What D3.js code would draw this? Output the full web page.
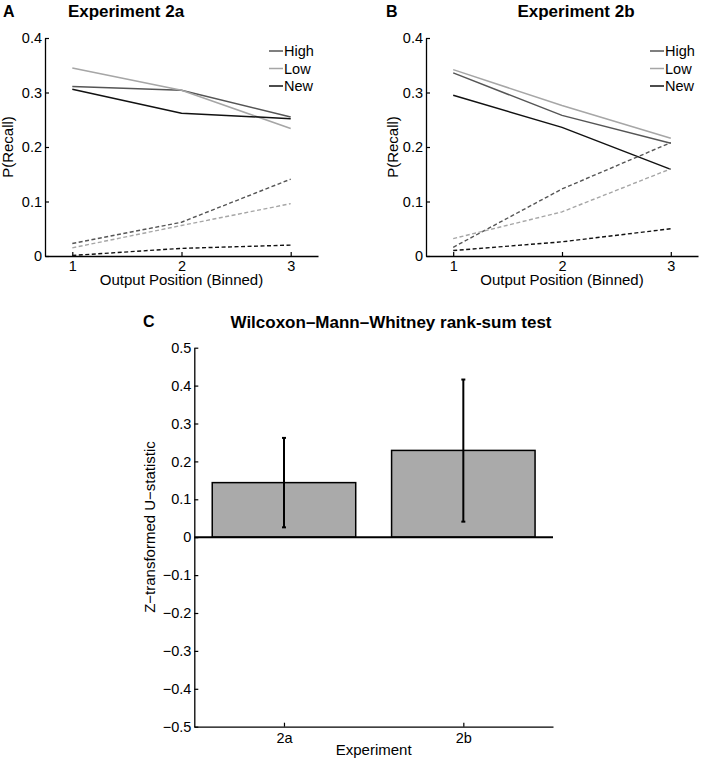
<!DOCTYPE html>
<html><head><meta charset="utf-8">
<script src="https://cdn.jsdelivr.net/npm/d3@7"></script>
<style>
body{margin:0;background:#fff;}
svg{display:block;font-family:"Liberation Sans",Arial,Helvetica,sans-serif;}
</style></head>
<body>
<svg id="chart" width="708" height="763"></svg>
<script>
// ---------- DATA ----------
const positions = [1, 2, 3];
const seriesNames = ["High", "Low", "New"];
const seriesColors = ["#555555", "#a6a6a6", "#111111"];

// Experiment 2a (solid = recall of studied items, dashed = intrusions)
const a_high_solid  = [0.311, 0.304, 0.255];
const a_low_solid   = [0.345, 0.304, 0.234];
const a_new_solid   = [0.306, 0.262, 0.252];
const a_high_dashed = [0.023, 0.062, 0.141];
const a_low_dashed  = [0.015, 0.056, 0.096];
const a_new_dashed  = [0.001, 0.014, 0.020];

// Experiment 2b
const b_high_solid  = [0.336, 0.258, 0.207];
const b_low_solid   = [0.342, 0.276, 0.216];
const b_new_solid   = [0.295, 0.236, 0.159];
const b_high_dashed = [0.016, 0.123, 0.208];
const b_low_dashed  = [0.032, 0.081, 0.160];
const b_new_dashed  = [0.010, 0.026, 0.050];

const recallTicks = [0, 0.1, 0.2, 0.3, 0.4];

// Panel C
const experiments = ["2a", "2b"];
const zValues   = [0.144, 0.229];
const errLower  = [0.026, 0.041];
const errUpper  = [0.262, 0.416];
const zTicks = [-0.5, -0.4, -0.3, -0.2, -0.1, 0, 0.1, 0.2, 0.3, 0.4, 0.5];

// ---------- DRAW ----------
const svg = d3.select("#chart");
const fmtP = d => d === 0 ? "0" : d3.format(".1f")(d);
const fmtZ = d => d === 0 ? "0" : (d < 0 ? "\u2212" : "") + d3.format(".1f")(Math.abs(d));

function styleAxis(g) {
  g.select(".domain").attr("stroke", "#000").attr("stroke-width", 1.3);
  g.selectAll(".tick line").attr("stroke", "#000").attr("stroke-width", 1.2);
  g.selectAll(".tick text").attr("fill", "#000").style("font-size", "14.5px");
  g.attr("font-family", null);
}

function linePanel(opt) {
  const x = d3.scaleLinear().domain([0.75, 3.25]).range([opt.x0, opt.x1]);
  const y = d3.scaleLinear().domain([0, 0.4]).range([256, 38]);
  const g = svg.append("g");

  const xa = g.append("g").attr("transform", `translate(0,${y(0)})`)
    .call(d3.axisBottom(x).tickValues(positions).tickFormat(d3.format("d"))
      .tickSizeInner(-4).tickSizeOuter(0).tickPadding(5));
  styleAxis(xa);
  const ya = g.append("g").attr("transform", `translate(${opt.x0},0)`)
    .call(d3.axisLeft(y).tickValues(recallTicks).tickFormat(fmtP)
      .tickSizeInner(-4).tickSizeOuter(0).tickPadding(3));
  styleAxis(ya);

  const line = d3.line().x((d, i) => x(positions[i])).y(d => y(d));
  opt.solid.forEach((s, k) => {
    g.append("path").datum(s).attr("d", line).attr("fill", "none")
      .attr("stroke", seriesColors[k]).attr("stroke-width", 1.5);
  });
  opt.dashed.forEach((s, k) => {
    g.append("path").datum(s).attr("d", line).attr("fill", "none")
      .attr("stroke", seriesColors[k]).attr("stroke-width", 1.4)
      .attr("stroke-dasharray", "4,2.5");
  });

  // legend
  seriesNames.forEach((n, k) => {
    const ly = 51 + k * 17.5;
    g.append("line").attr("x1", opt.legX).attr("x2", opt.legX + 14)
      .attr("y1", ly).attr("y2", ly).attr("stroke", seriesColors[k]).attr("stroke-width", 1.5);
    g.append("text").attr("x", opt.legX + 15).attr("y", ly).attr("dy", "0.35em")
      .style("font-size", "14.5px").text(n);
  });

  // labels
  g.append("text").attr("x", (x(1) + x(3)) / 2).attr("y", 285)
    .attr("text-anchor", "middle").style("font-size", "15px").text("Output Position (Binned)");
  g.append("text").attr("transform", `translate(${opt.ylabX},${(y(0) + y(0.4)) / 2}) rotate(-90)`)
    .attr("text-anchor", "middle").style("font-size", "15px").text("P(Recall)");
  g.append("text").attr("x", opt.titleX).attr("y", 17).attr("text-anchor", "middle")
    .style("font-size", "17px").style("font-weight", "bold").text(opt.title);
  g.append("text").attr("x", opt.letterX).attr("y", 17)
    .style("font-size", "16px").style("font-weight", "bold").text(opt.letter);
}

linePanel({x0: 45, x1: 318, legX: 269, ylabX: 13, titleX: 126, letterX: 3, letter: "A",
  title: "Experiment 2a",
  solid: [a_high_solid, a_low_solid, a_new_solid],
  dashed: [a_high_dashed, a_low_dashed, a_new_dashed]});
linePanel({x0: 426, x1: 698, legX: 650, ylabX: 398, titleX: 576, letterX: 386, letter: "B",
  title: "Experiment 2b",
  solid: [b_high_solid, b_low_solid, b_new_solid],
  dashed: [b_high_dashed, b_low_dashed, b_new_dashed]});

// ---------- Panel C ----------
(function () {
  const x = d3.scaleLinear().domain([0.5, 2.5]).range([194.3, 553]);
  const y = d3.scaleLinear().domain([-0.5, 0.5]).range([726.7, 347.7]);
  const g = svg.append("g");
  const bw = x(1.4) - x(0.6);

  g.selectAll("rect.bar").data(zValues).join("rect").attr("class", "bar")
    .attr("x", (d, i) => x(i + 1) - bw / 2).attr("width", bw)
    .attr("y", d => y(d)).attr("height", d => y(0) - y(d))
    .attr("fill", "#aaaaaa").attr("stroke", "#000").attr("stroke-width", 1.5);

  // zero line
  g.append("line").attr("x1", x(0.5)).attr("x2", x(2.5)).attr("y1", y(0)).attr("y2", y(0))
    .attr("stroke", "#000").attr("stroke-width", 2);

  // error bars
  zValues.forEach((d, i) => {
    const cx = x(i + 1);
    g.append("line").attr("x1", cx).attr("x2", cx).attr("y1", y(errLower[i])).attr("y2", y(errUpper[i]))
      .attr("stroke", "#000").attr("stroke-width", 2);
    [errLower[i], errUpper[i]].forEach(v => {
      g.append("line").attr("x1", cx - 2).attr("x2", cx + 2).attr("y1", y(v)).attr("y2", y(v))
        .attr("stroke", "#000").attr("stroke-width", 2);
    });
  });

  const xa = g.append("g").attr("transform", `translate(0,${y(-0.5)})`)
    .call(d3.axisBottom(x).tickValues([1, 2]).tickFormat((d) => experiments[d - 1])
      .tickSizeInner(-4).tickSizeOuter(0).tickPadding(6));
  styleAxis(xa);
  const ya = g.append("g").attr("transform", `translate(${x(0.5)},0)`)
    .call(d3.axisLeft(y).tickValues(zTicks).tickFormat(fmtZ)
      .tickSizeInner(-4).tickSizeOuter(0).tickPadding(3));
  styleAxis(ya);

  g.append("text").attr("x", (x(0.5) + x(2.5)) / 2).attr("y", 755).attr("text-anchor", "middle")
    .style("font-size", "15px").text("Experiment");
  g.append("text").attr("transform", `translate(155,527) rotate(-90)`)
    .attr("text-anchor", "middle").style("font-size", "15px").text("Z\u2212transformed U\u2212statistic");
  g.append("text").attr("x", 391).attr("y", 328).attr("text-anchor", "middle")
    .style("font-size", "17px").style("font-weight", "bold").text("Wilcoxon\u2013Mann\u2013Whitney rank-sum test");
  g.append("text").attr("x", 143).attr("y", 327)
    .style("font-size", "16px").style("font-weight", "bold").text("C");
})();
</script>
</body></html>
